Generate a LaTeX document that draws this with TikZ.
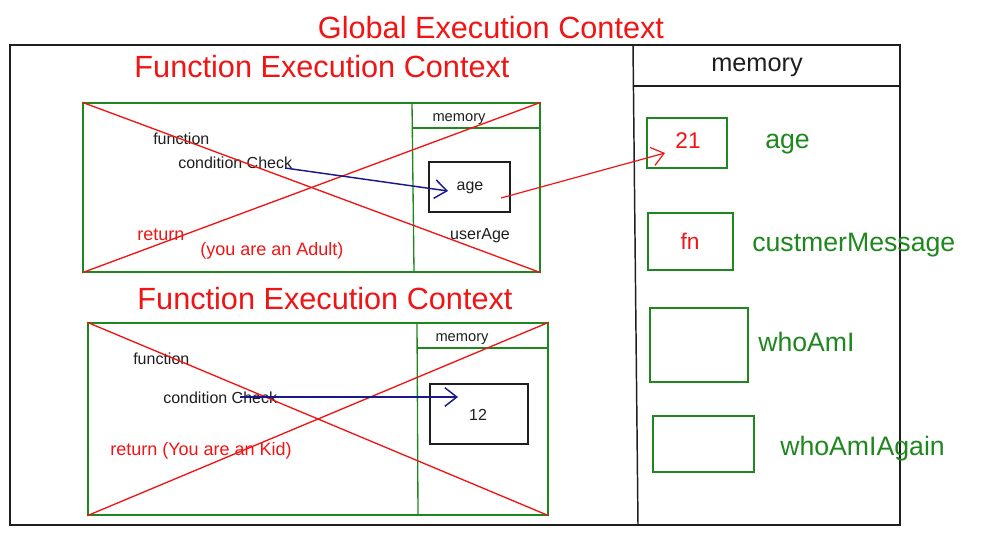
\documentclass[tikz,border=0pt]{standalone}
\usepackage{fontspec}
\setmainfont{Liberation Sans}
\usetikzlibrary{fit,arrows.meta}
\definecolor{xred}{RGB}{240,20,20}
\definecolor{xgreen}{RGB}{30,135,30}
\definecolor{xblue}{RGB}{25,25,140}
\definecolor{xblack}{RGB}{30,30,30}
\begin{document}
\begin{tikzpicture}[x=0.75pt,y=-0.75pt,
  gbox/.style={draw=xgreen, line width=1pt, inner sep=0pt},
  kbox/.style={draw=xblack, line width=1.1pt, inner sep=0pt},
  bigt/.style={text=xred, font=\fontsize{23}{26}\selectfont},
  midt/.style={text=xgreen, font=\fontsize{20}{23}\selectfont, anchor=west, inner sep=0pt},
  smallt/.style={text=xblack, font=\fontsize{12}{14}\selectfont},
  redt/.style={text=xred, font=\fontsize{13.5}{16}\selectfont},
  cross/.style={draw=xred, line width=1pt},
  tip/.style={-{Straight Barb[length=9pt,width=14pt]}}]
\useasboundingbox (0,0) rectangle (984,539);
% global
\node[bigt] (gtitle) at (491,28) {Global Execution Context};
\node[draw=xblack, line width=1.1pt, inner sep=0pt, fit={(10,45) (900,525)}] (gbox) {};
\draw[xblack, line width=1.1pt] (633,45) -- (638,525);
\draw[xblack, line width=1.1pt] (633,86) -- (900,86);
\node[text=xblack, font=\fontsize{19}{22}\selectfont] (gmem) at (757,67) {memory};

% function context 1
\node[bigt] (f1title) at (322,67) {Function Execution Context};
\node[gbox, fit={(83,103) (540,272)}] (f1) {};
\draw[xgreen, line width=1pt] (412,103) -- (414,272);
\draw[xgreen, line width=1pt] (412,128) -- (540,128);
\node[smallt, font=\fontsize{11}{13}\selectfont] (m1) at (459,119) {memory};
\node[kbox, fit={(429,162) (510,212)}] (b1) {};
\node[smallt] (a1) at (470,188) {age};
\node[smallt] (ua1) at (480,236) {userAge};
\node[smallt, anchor=west, inner sep=0pt] (fn1) at (153,139) {function};
\node[smallt, anchor=west, inner sep=0pt] (cc1) at (178,163) {condition Check};
\node[redt, anchor=west, inner sep=0pt] (r1) at (137,235) {return};
\node[redt, anchor=west, inner sep=0pt] (ad1) at (200,251) {(you are an Adult)};
\draw[cross] (f1.north west) -- (f1.south east);
\draw[cross] (f1.south west) -- (f1.north east);
\coordinate (s1) at (285,168);
\coordinate (e1) at (448,191);
\draw[xblue, line width=1.1pt, tip] (s1) -- (e1);

% function context 2
\node[bigt] (f2title) at (325,299) {Function Execution Context};
\node[gbox, fit={(88,323) (548,515)}] (f2) {};
\draw[xgreen, line width=1pt] (417,323) -- (418,515);
\draw[xgreen, line width=1pt] (417,348) -- (548,348);
\node[smallt, font=\fontsize{11}{13}\selectfont] (m2) at (462,339) {memory};
\node[kbox, fit={(430,384) (528,444)}] (b2) {};
\node[smallt] (v2) at (478,415) {12};
\node[smallt, anchor=west, inner sep=0pt] (fn2) at (133,359) {function};
\node[smallt, anchor=west, inner sep=0pt] (cc2) at (163,398) {condition Check};
\node[redt, anchor=west, inner sep=0pt] (r2) at (110,451) {return (You are an Kid)};
\draw[cross] (f2.north west) -- (f2.south east);
\draw[cross] (f2.south west) -- (f2.north east);
\coordinate (s2) at (240,397);
\coordinate (e2) at (458,397);
\draw[xblue, line width=1.1pt, tip] (s2) -- (e2);

% global memory
\node[gbox, fit={(647,118) (727,168)}] (g1) {};
\node[text=xred, font=\fontsize{17}{20}\selectfont] (v21) at (688,141) {21};
\node[midt] (l1) at (765,144) {age};
\node[gbox, fit={(648,213) (733,270)}] (g2) {};
\node[text=xred, font=\fontsize{17}{20}\selectfont] (vfn) at (690,241) {fn};
\node[midt] (l2) at (752,245) {custmerMessage};
\node[gbox, fit={(650,308) (748,382)}] (g3) {};
\node[midt] (l3) at (758,342) {whoAmI};
\node[gbox, fit={(653,416) (754,472)}] (g4) {};
\node[midt] (l4) at (780,449) {whoAmIAgain};

\coordinate (s3) at (501,198);
\coordinate (e3) at (665,153);
\draw[xred, line width=0.9pt, tip] (s3) -- (e3);
\end{tikzpicture}
\end{document}
